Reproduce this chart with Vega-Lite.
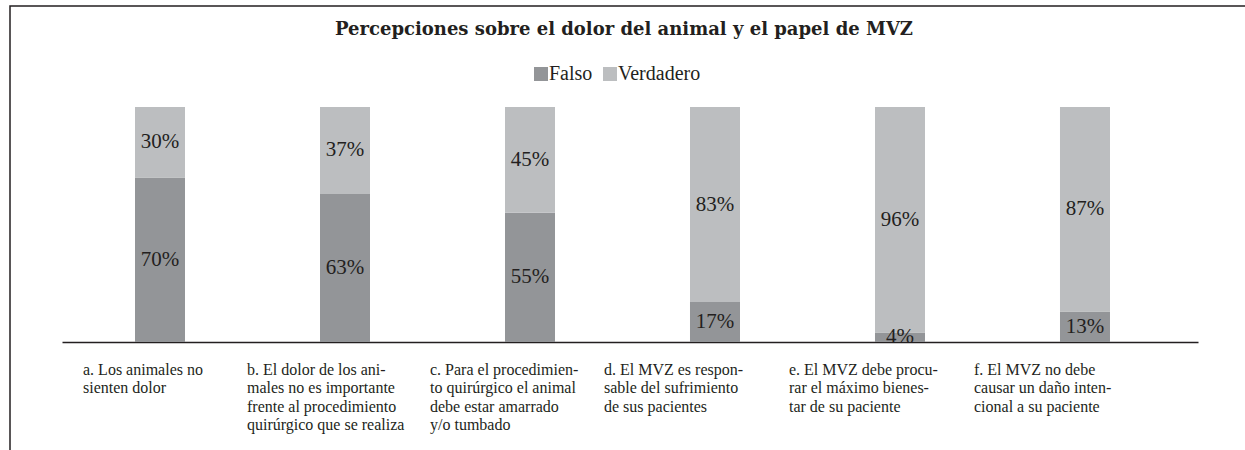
{
  "$schema": "https://vega.github.io/schema/vega-lite/v6.json",
  "width": 1250,
  "height": 460,
  "autosize": "none",
  "padding": {"left": 10, "top": 6, "right": 0, "bottom": 0},
  "background": "white",
  "config": {
    "view": {"stroke": "#231f20", "strokeWidth": 1.5},
    "font": "Liberation Serif"
  },
  "title": {
    "text": "Percepciones sobre el dolor del animal y el papel de MVZ",
    "font": "DejaVu Serif",
    "fontSize": 18,
    "fontWeight": "bold",
    "color": "#231f20",
    "anchor": "middle",
    "frame": "group",
    "baseline": "middle",
    "offset": -42,
    "dx": -11
  },
  "data": {
    "values": [
      {"enunciado": "a. Los animales no|sienten dolor", "serie": "Falso", "valor": 0.70},
      {"enunciado": "a. Los animales no|sienten dolor", "serie": "Verdadero", "valor": 0.30},
      {"enunciado": "b. El dolor de los ani-|males no es importante|frente al procedimiento|quirúrgico que se realiza", "serie": "Falso", "valor": 0.63},
      {"enunciado": "b. El dolor de los ani-|males no es importante|frente al procedimiento|quirúrgico que se realiza", "serie": "Verdadero", "valor": 0.37},
      {"enunciado": "c. Para el procedimien-|to quirúrgico el animal|debe estar amarrado|y/o tumbado", "serie": "Falso", "valor": 0.55},
      {"enunciado": "c. Para el procedimien-|to quirúrgico el animal|debe estar amarrado|y/o tumbado", "serie": "Verdadero", "valor": 0.45},
      {"enunciado": "d. El MVZ es respon-|sable del sufrimiento|de sus pacientes", "serie": "Falso", "valor": 0.17},
      {"enunciado": "d. El MVZ es respon-|sable del sufrimiento|de sus pacientes", "serie": "Verdadero", "valor": 0.83},
      {"enunciado": "e. El MVZ debe procu-|rar el máximo bienes-|tar de su paciente", "serie": "Falso", "valor": 0.04},
      {"enunciado": "e. El MVZ debe procu-|rar el máximo bienes-|tar de su paciente", "serie": "Verdadero", "valor": 0.96},
      {"enunciado": "f. El MVZ no debe|causar un daño inten-|cional a su paciente", "serie": "Falso", "valor": 0.13},
      {"enunciado": "f. El MVZ no debe|causar un daño inten-|cional a su paciente", "serie": "Verdadero", "valor": 0.87}
    ]
  },
  "transform": [
    {"stack": "valor", "groupby": ["enunciado"], "sort": [{"field": "serie", "order": "ascending"}], "as": ["v0", "v1"]},
    {"calculate": "(datum.v0 + datum.v1) / 2", "as": "mid"}
  ],
  "encoding": {
    "x": {
      "field": "enunciado",
      "type": "nominal",
      "sort": null,
      "scale": {"range": [52, 1188], "paddingInner": 0, "paddingOuter": 0.0703, "align": 0.2115},
      "axis": {
        "title": null,
        "orient": "bottom",
        "offset": -124,
        "domain": true,
        "domainColor": "#231f20",
        "domainWidth": 1.5,
        "ticks": false,
        "labelAngle": 0,
        "labelAlign": "left",
        "labelBaseline": "top",
        "labelPadding": 19,
        "labelFont": "Liberation Serif",
        "labelFontSize": 16,
        "labelColor": "#231f20",
        "labelLineHeight": 18.5,
        "labelLimit": 0,
        "labelExpr": "split(datum.label, '|')",
        "labelOffset": {
          "condition": [
            {"test": "indexof(datum.value, 'a.') == 0", "value": -77},
            {"test": "indexof(datum.value, 'b.') == 0", "value": -98},
            {"test": "indexof(datum.value, 'c.') == 0", "value": -100}
          ],
          "value": -111
        }
      }
    }
  },
  "layer": [
    {
      "mark": {"type": "bar", "width": 50},
      "encoding": {
        "y": {
          "field": "v0",
          "type": "quantitative",
          "scale": {"domain": [-0.5277, 1.4298], "nice": false, "zero": false},
          "axis": null
        },
        "y2": {"field": "v1"},
        "color": {
          "field": "serie",
          "type": "nominal",
          "scale": {"domain": ["Falso", "Verdadero"], "range": ["#939598", "#bcbec0"]},
          "legend": {
            "title": null,
            "orient": "none",
            "legendX": 521,
            "legendY": 58,
            "direction": "horizontal",
            "symbolType": "square",
            "symbolSize": 196,
            "symbolStrokeWidth": 0,
            "labelFont": "Liberation Serif",
            "labelFontSize": 20,
            "labelColor": "#231f20",
            "labelOffset": -2,
            "columnPadding": 7,
            "padding": 0
          }
        }
      }
    },
    {
      "mark": {"type": "text", "font": "Liberation Serif", "fontSize": 21, "color": "#231f20", "baseline": "middle", "align": "center"},
      "encoding": {
        "y": {"field": "mid", "type": "quantitative"},
        "text": {"field": "valor", "type": "quantitative", "format": ".0%"}
      }
    }
  ]
}
